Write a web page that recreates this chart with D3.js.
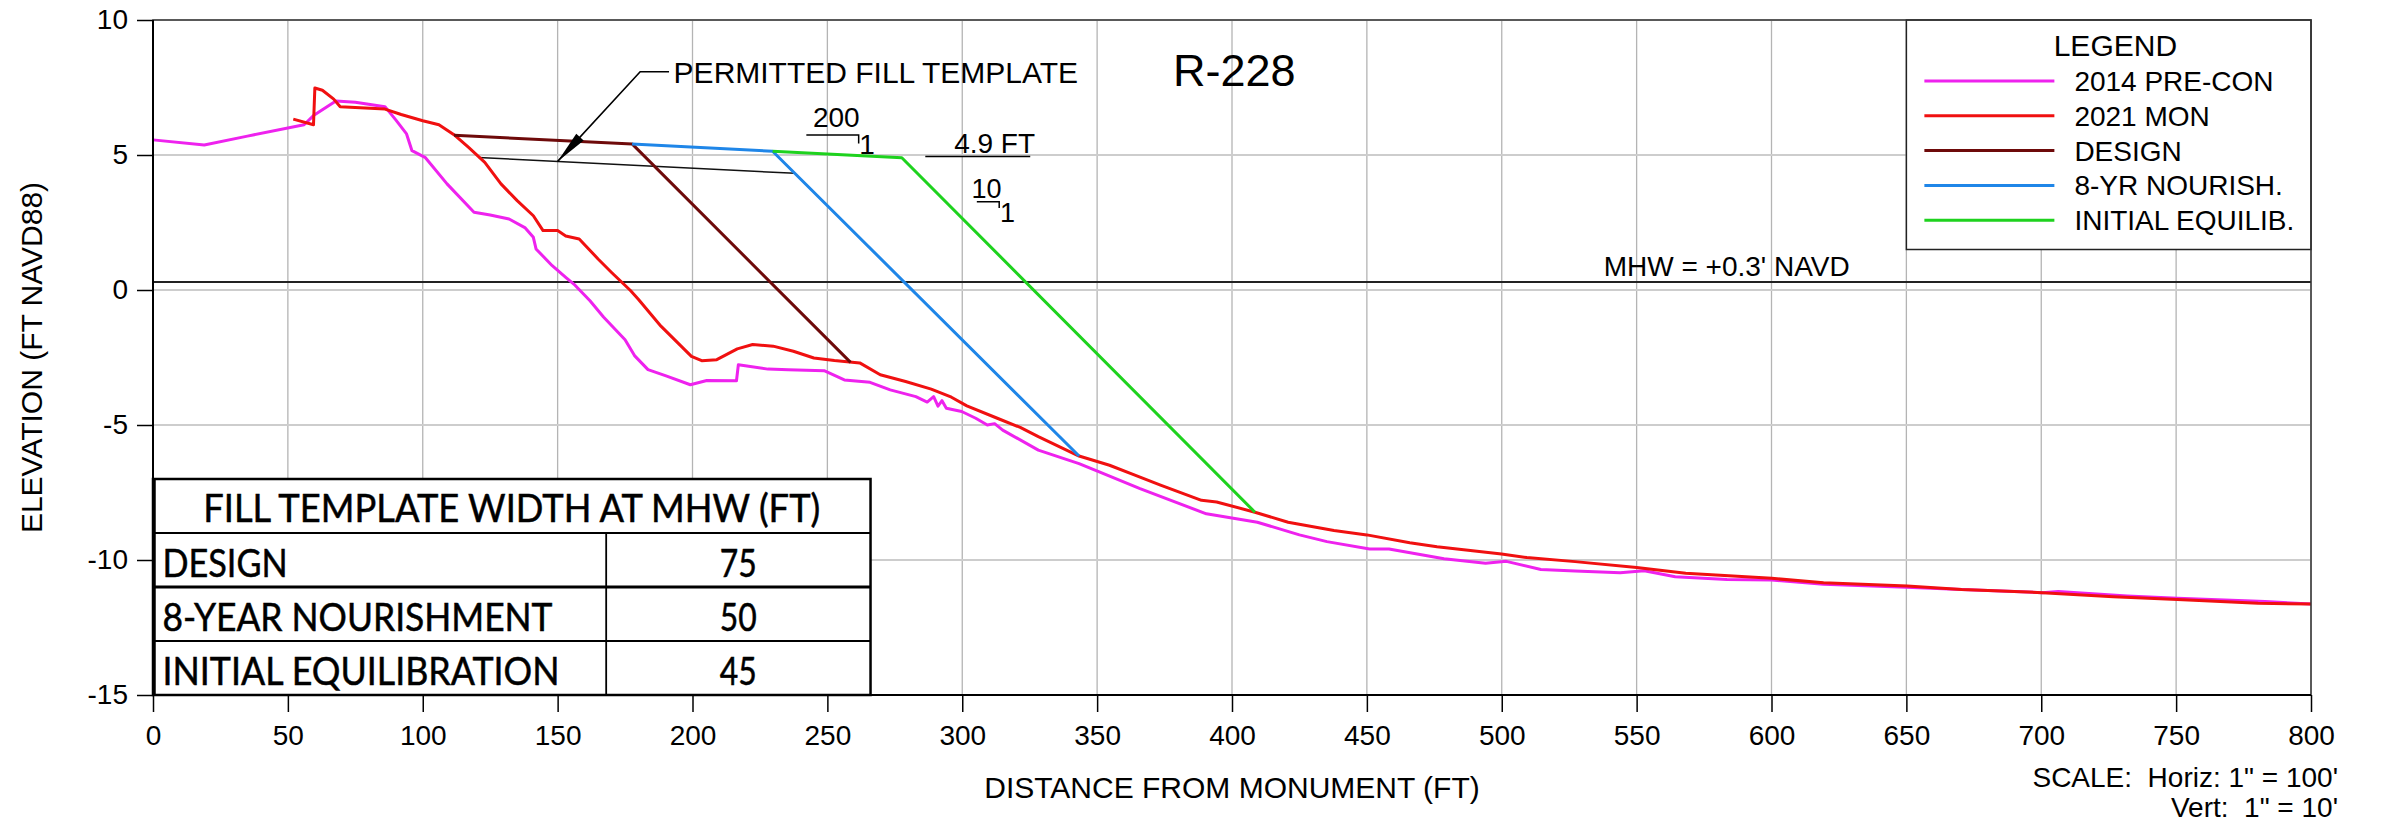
<!DOCTYPE html>
<html>
<head>
<meta charset="utf-8">
<script src="https://cdn.jsdelivr.net/npm/d3@7"></script>
<style>
  html, body { margin: 0; padding: 0; background: #fff; }
  svg { display: block; }
  text { font-family: "Liberation Sans", Arial, Helvetica, sans-serif; fill: #000; }
</style>
</head>
<body>
<svg id="chart" width="2381" height="828"></svg>
<script>
// ---- Beach profile R-228 : data ----
const xTicks = [0, 50, 100, 150, 200, 250, 300, 350, 400, 450, 500, 550, 600, 650, 700, 750, 800];
const yTicks = [-15, -10, -5, 0, 5, 10];

// [distance from monument (ft), elevation (ft NAVD88)]
const preCon2014 = [
  [0, 5.56], [19, 5.37], [35, 5.7], [56, 6.12], [59.5, 6.46], [67.8, 7.0], [75, 6.95], [86, 6.79],
  [90, 6.3], [94, 5.78], [96, 5.16], [101, 4.9], [109, 3.93], [119, 2.88], [125, 2.78], [132, 2.63],
  [138, 2.3], [141, 1.95], [142, 1.52], [148, 0.9], [153, 0.47], [156, 0.22], [162, -0.4], [167, -1.0],
  [175, -1.84], [178.5, -2.43], [183.5, -2.95], [190.2, -3.18], [199.2, -3.51], [205.3, -3.35],
  [216.3, -3.36], [217, -2.77], [228, -2.93], [235.5, -2.95], [248.8, -2.99], [256.3, -3.33],
  [265.8, -3.42], [273.3, -3.7], [282.8, -3.95], [287, -4.15], [289.4, -3.95], [291, -4.3],
  [292.5, -4.1], [294.1, -4.38], [299.8, -4.5], [305, -4.75], [309.3, -5.0], [312, -4.95],
  [315, -5.19], [328.2, -5.93], [343.3, -6.43], [350.8, -6.74], [365.9, -7.36], [390.5, -8.29],
  [409.4, -8.6], [425, -9.07], [435.2, -9.32], [451, -9.59], [458.2, -9.59], [478.6, -9.95],
  [494, -10.12], [501.7, -10.05], [514.5, -10.35], [527.2, -10.41], [543.9, -10.47], [552.8, -10.4],
  [564.3, -10.62], [583.5, -10.72], [600.1, -10.74], [619.3, -10.9], [650, -11.01], [670.5, -11.09],
  [700.4, -11.21], [706.3, -11.17], [731.9, -11.33], [750.5, -11.42], [783, -11.54], [800, -11.63]
];

const mon2021 = [
  [52, 6.33], [59.5, 6.12], [60, 7.48], [62.8, 7.4], [67, 7.07], [69.4, 6.79], [86, 6.7], [92, 6.5],
  [100, 6.27], [106, 6.12], [112, 5.72], [117, 5.28], [123, 4.73], [129, 3.93], [135, 3.31],
  [141, 2.75], [144.6, 2.2], [150, 2.2], [153, 2.0], [158, 1.89], [165, 1.15], [170, 0.65],
  [177, -0.02], [180, -0.35], [188.3, -1.34], [199.6, -2.46], [203.4, -2.62], [209, -2.58],
  [216.6, -2.18], [222.3, -2.02], [229.9, -2.08], [237.4, -2.27], [245, -2.52], [252.6, -2.61],
  [262, -2.7], [269.6, -3.14], [279, -3.39], [288.5, -3.67], [296, -3.97], [301.7, -4.29],
  [313, -4.75], [321.5, -5.09], [328.2, -5.43], [343.3, -6.15], [354.6, -6.49], [364, -6.86],
  [373.5, -7.23], [388.7, -7.79], [394.3, -7.85], [408.5, -8.23], [420.8, -8.6], [437.8, -8.91],
  [450, -9.07], [465.9, -9.36], [476, -9.51], [499.9, -9.78], [509.3, -9.91], [527.2, -10.06],
  [550, -10.28], [568.2, -10.49], [600.1, -10.68], [619.3, -10.84], [650.3, -10.96], [670.5, -11.09],
  [700.4, -11.21], [726.7, -11.36], [750.5, -11.46], [780.4, -11.6], [800, -11.63]
];

const designTemplate = [[111.6, 5.73], [177.6, 5.41], [258.6, -2.68]];
const nourish8yr = [[177.6, 5.41], [229.7, 5.14], [343.3, -6.15]];
const initialEquilib = [[229.7, 5.14], [277.6, 4.9], [408.5, -8.23]];
const permittedTemplate = [[120.7, 4.91], [238, 4.32]];
const mhwElevation = 0.3;

const legendNames = ["2014 PRE-CON", "2021 MON", "DESIGN", "8-YR NOURISH.", "INITIAL EQUILIB."];
const legendColors = ["#ee22ee", "#f01010", "#6e0a0a", "#1f86e8", "#1ed21e"];

const tableTitle = "FILL TEMPLATE WIDTH AT MHW (FT)";
const tableLabels = ["DESIGN", "8-YEAR NOURISHMENT", "INITIAL EQUILIBRATION"];
const tableWidths = [75, 50, 45];

// ---- layout ----
const svg = d3.select("#chart");
const x = d3.scaleLinear().domain([0, 800]).range([153, 2311]);
const y = d3.scaleLinear().domain([-15, 10]).range([695, 20]);
const line = d3.line().x(d => x(d[0])).y(d => y(d[1]));

// grid
const grid = svg.append("g");
grid.selectAll("line.v").data(xTicks).join("line")
  .attr("x1", d => x(d)).attr("x2", d => x(d))
  .attr("y1", y(10)).attr("y2", y(-15))
  .attr("stroke", "#b4b4b4").attr("stroke-width", 1.3);
grid.selectAll("line.h").data(yTicks).join("line")
  .attr("x1", x(0)).attr("x2", x(800))
  .attr("y1", d => y(d)).attr("y2", d => y(d))
  .attr("stroke", "#cdcdcd").attr("stroke-width", 2);

// MHW line
svg.append("line")
  .attr("x1", x(0)).attr("x2", x(800))
  .attr("y1", y(mhwElevation)).attr("y2", y(mhwElevation))
  .attr("stroke", "#222").attr("stroke-width", 2);

// thin permitted fill template line
svg.append("path").datum(permittedTemplate).attr("d", line)
  .attr("fill", "none").attr("stroke", "#111").attr("stroke-width", 1.5);

// profiles
const profiles = [preCon2014, mon2021, designTemplate, nourish8yr, initialEquilib];
svg.append("g").selectAll("path").data(profiles).join("path")
  .attr("d", line)
  .attr("fill", "none")
  .attr("stroke", (d, i) => legendColors[i])
  .attr("stroke-width", 3)
  .attr("stroke-linejoin", "round");

// table
const tbl = svg.append("g");
const rowEdges = [-7, -9, -11, -13, -15];
tbl.append("rect")
  .attr("x", x(0)).attr("y", y(-7))
  .attr("width", x(266) - x(0)).attr("height", y(-15) - y(-7))
  .attr("fill", "#fff").attr("stroke", "#000").attr("stroke-width", 2.5);
tbl.append("line")
  .attr("x1", x(0) + 1).attr("x2", x(0) + 1).attr("y1", y(-7)).attr("y2", y(-15))
  .attr("stroke", "#000").attr("stroke-width", 3.5);
tbl.selectAll("line.r").data(rowEdges.slice(1, 4)).join("line")
  .attr("x1", x(0)).attr("x2", x(266))
  .attr("y1", d => y(d)).attr("y2", d => y(d))
  .attr("stroke", "#000").attr("stroke-width", (d, i) => i === 1 ? 3 : 2);
tbl.append("line")
  .attr("x1", x(168)).attr("x2", x(168)).attr("y1", y(-9)).attr("y2", y(-15))
  .attr("stroke", "#000").attr("stroke-width", 1.8);
const tfont = "Lato, 'Open Sans', sans-serif";
function tableText(sel) {
  return sel.style("font-family", tfont).style("font-size", "38px")
    .attr("stroke", "#000").attr("stroke-width", 0.5);
}
tbl.append("text")
  .attr("x", (x(0) + x(266)) / 2).attr("y", y(-9) - 11.5)
  .attr("text-anchor", "middle")
  .attr("textLength", 617).attr("lengthAdjust", "spacingAndGlyphs")
  .call(tableText)
  .text(tableTitle);
const labelLens = [125, 390, 397];
tbl.selectAll("text.lab").data(tableLabels).join("text")
  .attr("x", x(0) + 9.5)
  .attr("y", (d, i) => y(rowEdges[i + 2]) - 10.5)
  .attr("textLength", (d, i) => labelLens[i]).attr("lengthAdjust", "spacingAndGlyphs")
  .call(tableText)
  .text(d => d);
tbl.selectAll("text.val").data(tableWidths).join("text")
  .attr("x", (x(168) + x(266)) / 2)
  .attr("y", (d, i) => y(rowEdges[i + 2]) - 10.5)
  .attr("text-anchor", "middle")
  .attr("textLength", 37).attr("lengthAdjust", "spacingAndGlyphs")
  .call(tableText)
  .text(d => d);

// legend
const lg = svg.append("g");
const lx0 = x(650), ly0 = y(10);
lg.append("rect")
  .attr("x", lx0).attr("y", ly0)
  .attr("width", x(800) - lx0).attr("height", y(1.5) - ly0)
  .attr("fill", "#fff").attr("stroke", "#222").attr("stroke-width", 1.5);
lg.append("text")
  .attr("x", lx0 + 209).attr("y", ly0 + 36)
  .attr("text-anchor", "middle").style("font-size", "30px")
  .text("LEGEND");
const items = lg.selectAll("g.item").data(legendNames).join("g")
  .attr("transform", (d, i) => `translate(0,${ly0 + 61 + i * 34.8})`);
items.append("line")
  .attr("x1", lx0 + 18).attr("x2", lx0 + 148)
  .attr("stroke", (d, i) => legendColors[i]).attr("stroke-width", 3);
items.append("text")
  .attr("x", lx0 + 168).attr("y", 10)
  .style("font-size", "28px")
  .text(d => d);

// frame
svg.append("rect")
  .attr("x", x(0)).attr("y", y(10))
  .attr("width", x(800) - x(0)).attr("height", y(-15) - y(10))
  .attr("fill", "none").attr("stroke", "#333").attr("stroke-width", 1.5);
svg.append("line").attr("x1", x(0)).attr("x2", x(0)).attr("y1", y(10)).attr("y2", y(-15))
  .attr("stroke", "#000").attr("stroke-width", 2);
svg.append("line").attr("x1", x(0)).attr("x2", x(800)).attr("y1", y(-15)).attr("y2", y(-15))
  .attr("stroke", "#000").attr("stroke-width", 2);

// axes (plain hyphen for negative labels)
const plain = d => String(d);
const xAxis = svg.append("g").attr("transform", `translate(0,${y(-15)})`)
  .call(d3.axisBottom(x).tickValues(xTicks).tickSize(17).tickPadding(13).tickFormat(plain));
const yAxis = svg.append("g").attr("transform", `translate(${x(0)},0)`)
  .call(d3.axisLeft(y).tickValues(yTicks).tickSize(16).tickPadding(9).tickFormat(plain));
[xAxis, yAxis].forEach(a => {
  a.select(".domain").remove();
  a.selectAll(".tick line").attr("stroke", "#000").attr("stroke-width", 1.5);
  a.selectAll(".tick text").attr("fill", "#000")
    .style("font-family", "'Liberation Sans', Arial, sans-serif").style("font-size", "28px");
});

// axis titles
svg.append("text")
  .attr("x", (x(0) + x(800)) / 2).attr("y", 798)
  .attr("text-anchor", "middle").style("font-size", "30px")
  .text("DISTANCE FROM MONUMENT (FT)");
svg.append("text")
  .attr("transform", `translate(42,${(y(10) + y(-15)) / 2}) rotate(-90)`)
  .attr("text-anchor", "middle").style("font-size", "30px")
  .text("ELEVATION (FT NAVD88)");
svg.append("text")
  .attr("x", 2338).attr("y", 787).attr("text-anchor", "end")
  .style("font-size", "28px").style("white-space", "pre")
  .text('SCALE:  Horiz: 1" = 100\'');
svg.append("text")
  .attr("x", 2338).attr("y", 817).attr("text-anchor", "end")
  .style("font-size", "28px").style("white-space", "pre")
  .text('Vert:  1" = 10\'');

// annotations
svg.append("text").attr("x", x(378.1)).attr("y", y(7.56))
  .style("font-size", "45px").text("R-228");
svg.append("text").attr("x", x(537.8)).attr("y", y(0.52))
  .style("font-size", "28px").text("MHW = +0.3' NAVD");

// permitted fill template leader with arrow
const tmplAt = xv => {
  const [a, b] = permittedTemplate;
  return a[1] + (b[1] - a[1]) * (xv - a[0]) / (b[0] - a[0]);
};
const tip = [x(150), y(tmplAt(150))];
const corner = [x(180.6), y(8.085)];
svg.append("path")
  .attr("d", `M${x(191.3)},${y(8.085)}L${corner[0]},${corner[1]}L${tip[0]},${tip[1]}`)
  .attr("fill", "none").attr("stroke", "#000").attr("stroke-width", 1.6);
{
  const dx = tip[0] - corner[0], dy = tip[1] - corner[1];
  const len = Math.hypot(dx, dy), ux = dx / len, uy = dy / len;
  const bx = tip[0] - 33 * ux, by = tip[1] - 33 * uy;
  const nx = -uy, ny = ux;
  svg.append("path")
    .attr("d", `M${tip[0]},${tip[1]}L${bx + 5 * nx},${by + 5 * ny}L${bx - 5 * nx},${by - 5 * ny}Z`)
    .attr("fill", "#000");
}
svg.append("text").attr("x", x(193)).attr("y", y(7.66))
  .style("font-size", "30px").text("PERMITTED FILL TEMPLATE");

// slope callouts
svg.append("text").attr("x", x(253.3)).attr("y", y(6.05)).attr("text-anchor", "middle")
  .style("font-size", "28px").text("200");
svg.append("path").attr("d", `M${x(242.2)},${y(5.74)}H${x(261.6)}V${y(5.43)}`)
  .attr("fill", "none").attr("stroke", "#000").attr("stroke-width", 1.5);
svg.append("text").attr("x", x(264.7)).attr("y", y(5.04)).attr("text-anchor", "middle")
  .style("font-size", "28px").text("1");

svg.append("text").attr("x", x(312)).attr("y", y(5.06)).attr("text-anchor", "middle")
  .style("font-size", "28px").text("4.9 FT");
svg.append("line").attr("x1", x(286.3)).attr("x2", x(325.2)).attr("y1", y(4.94)).attr("y2", y(4.94))
  .attr("stroke", "#000").attr("stroke-width", 1.5);

svg.append("text").attr("x", x(309)).attr("y", y(3.41)).attr("text-anchor", "middle")
  .style("font-size", "27px").text("10");
svg.append("path").attr("d", `M${x(305.4)},${y(3.27)}H${x(313.7)}V${y(3.04)}`)
  .attr("fill", "none").attr("stroke", "#000").attr("stroke-width", 1.5);
svg.append("text").attr("x", x(316.8)).attr("y", y(2.53)).attr("text-anchor", "middle")
  .style("font-size", "27px").text("1");
</script>
</body>
</html>
